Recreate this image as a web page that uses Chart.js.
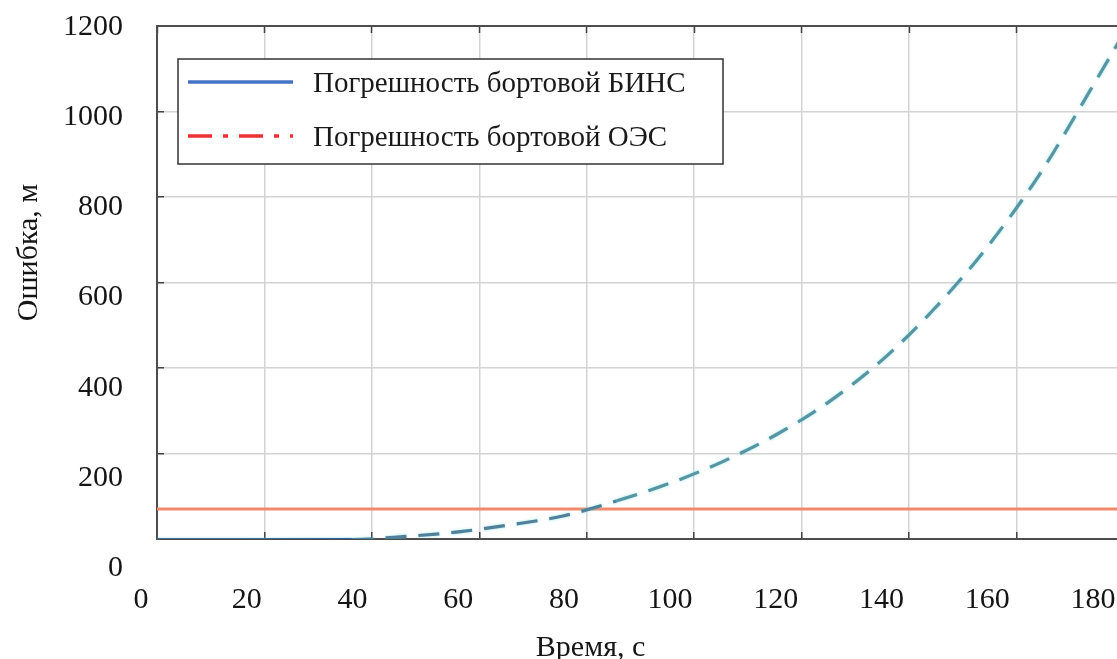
<!DOCTYPE html>
<html>
<head>
<meta charset="utf-8">
<script src="https://cdn.jsdelivr.net/npm/chart.js@4.4.1/dist/chart.umd.min.js"></script>
<style>
  html, body { margin: 0; padding: 0; background: #fff; overflow: hidden; }
  #wrap { width: 1117px; height: 659px; overflow: hidden; }
  canvas { display: block; }
</style>
</head>
<body>
<div id="wrap"><canvas id="chart" width="1130" height="659"></canvas></div>
<script>
// Onboard INS position error over time
const timeSec   = [0, 20, 40, 50, 60, 70, 80, 90, 100, 110, 120, 130, 140, 150, 160, 170, 180, 185];
const binsError = [62, 62, 63, 70, 80, 96, 116, 149, 188, 236, 295, 368, 460, 575, 712, 875, 1070, 1170];

// Onboard optical-electronic system error (constant level)
const oesTime  = [0, 186];
const oesError = [131, 131];

// Axis labels
const xTickValues = [0, 20, 40, 60, 80, 100, 120, 140, 160, 180];
const yTickValues = [0, 200, 400, 600, 800, 1000, 1200];
const seriesNames = ['Погрешность бортовой БИНС', 'Погрешность бортовой ОЭС'];
const xTitle = 'Время, с';
const yTitle = 'Ошибка, м';

// Legend sample styles
const legendColors = ['#4472c4', '#ee3030'];
const legendDashes = [[], [24, 11, 5, 11]];

const SERIF = "'Liberation Serif', 'Times New Roman', serif";
Chart.defaults.font.family = SERIF;
Chart.defaults.font.size = 30;
Chart.defaults.color = '#151515';

const zip = (xs, ys) => xs.map((x, i) => ({ x, y: ys[i] }));

// Axis captions placed along the labelled scales
const captions = {
  id: 'captions',
  afterDraw(chart) {
    const { ctx, scales } = chart;
    ctx.save();
    ctx.font = `30px ${SERIF}`;
    ctx.fillStyle = '#151515';
    ctx.textAlign = 'center';
    ctx.textBaseline = 'alphabetic';
    ctx.fillText(xTitle, scales.xl.getPixelForValue(85), chart.height - 3);
    ctx.translate(37, scales.yl.getPixelForValue(700));
    ctx.rotate(-Math.PI / 2);
    ctx.fillText(yTitle, 0, 0);
    ctx.restore();
  }
};

// Soft cyan halo around the INS error curve
const curveHalo = {
  id: 'curveHalo',
  beforeDatasetDraw(chart, args) {
    if (args.index !== 0) return;
    const ctx = chart.ctx;
    ctx.save();
    ctx.shadowColor = 'rgba(110, 215, 225, 0.7)';
    ctx.shadowBlur = 3;
  },
  afterDatasetDraw(chart, args) {
    if (args.index !== 0) return;
    chart.ctx.restore();
  }
};

// Boxed legend in the upper-left corner of the plot
const legendBox = {
  id: 'legendBox',
  afterDatasetsDraw(chart) {
    const { ctx, chartArea: a } = chart;
    const left = a.left + 21, top = a.top + 33, w = 545, h = 105;
    ctx.save();
    ctx.fillStyle = '#fff';
    ctx.fillRect(left, top, w, h);
    ctx.strokeStyle = '#333';
    ctx.lineWidth = 1.5;
    ctx.strokeRect(left, top, w, h);
    chart.data.datasets.forEach((ds, i) => {
      const y = top + 23 + i * 54;
      ctx.beginPath();
      ctx.setLineDash(legendDashes[i]);
      ctx.strokeStyle = legendColors[i];
      ctx.lineWidth = 3.5;
      ctx.moveTo(left + 10, y);
      ctx.lineTo(left + 115, y);
      ctx.stroke();
      ctx.setLineDash([]);
      ctx.fillStyle = '#1a1a1a';
      ctx.font = `29px ${SERIF}`;
      ctx.textAlign = 'left';
      ctx.textBaseline = 'middle';
      ctx.fillText(ds.label, left + 135, y + 2);
    });
    ctx.restore();
  }
};

const innerTicks = { drawTicks: true, tickLength: -7, tickColor: '#444', tickWidth: 1.5 };
const noPad = s => { s.paddingLeft = 0; s.paddingRight = 0; s.paddingTop = 0; s.paddingBottom = 0; };
const DASH = [21, 12];

new Chart(document.getElementById('chart'), {
  type: 'line',
  data: {
    datasets: [
      {
        label: seriesNames[0],
        data: zip(timeSec, binsError),
        xAxisID: 'xl', yAxisID: 'yl',
        borderColor: '#5695a1',
        borderWidth: 3.2,
        borderDash: DASH,
        pointRadius: 0,
        cubicInterpolationMode: 'monotone',
        segment: {
          borderColor: c => c.p1.parsed.x <= 40 ? '#2f5c9c' : (c.p1.parsed.x <= 90 ? '#51809a' : '#5695a1'),
          borderDash: c => c.p1.parsed.x <= 40 ? [] : DASH
        }
      },
      {
        label: seriesNames[1],
        data: zip(oesTime, oesError),
        xAxisID: 'xl', yAxisID: 'yl',
        borderColor: '#f3896b',
        borderWidth: 3,
        pointRadius: 0
      }
    ]
  },
  options: {
    responsive: false,
    animation: false,
    events: [],
    layout: { padding: { top: 26, right: 6, left: 0, bottom: 0 } },
    plugins: { legend: { display: false }, tooltip: { enabled: false } },
    scales: {
      // grid and frame
      x: {
        type: 'linear', position: 'bottom', weight: 0, min: 0, max: 180,
        ticks: { display: false, stepSize: 20 },
        grid: Object.assign({ color: '#d3d3d3', lineWidth: 1.5 }, innerTicks),
        border: { display: true, color: '#4d4d4d', width: 2 },
        afterFit: s => { s.height = 0; noPad(s); }
      },
      xt: {
        type: 'linear', position: 'top', weight: 0, min: 0, max: 180,
        ticks: { display: false, stepSize: 20 },
        grid: Object.assign({ drawOnChartArea: false }, innerTicks),
        border: { display: true, color: '#4d4d4d', width: 2 },
        afterFit: s => { s.height = 0; noPad(s); }
      },
      y: {
        type: 'linear', position: 'left', weight: 0, min: 0, max: 1200,
        ticks: { display: false, stepSize: 200 },
        grid: Object.assign({ color: '#d3d3d3', lineWidth: 1.5 }, innerTicks),
        border: { display: true, color: '#4d4d4d', width: 2 },
        afterFit: s => { s.width = 0; noPad(s); }
      },
      // labelled scales
      xl: {
        type: 'linear', position: 'bottom', weight: 1, min: 3.03, max: 185.86, bounds: 'data',
        grid: { display: false, drawTicks: false },
        border: { display: false },
        ticks: { autoSkip: false, maxRotation: 0, padding: 43, callback: v => String(v) },
        afterBuildTicks: s => { s.ticks = xTickValues.map(v => ({ value: v })); },
        afterFit: s => { s.height = 120; noPad(s); }
      },
      yl: {
        type: 'linear', position: 'left', weight: 1, min: 64.3, max: 1202.3, bounds: 'data',
        grid: { display: false, drawTicks: false },
        border: { display: false },
        ticks: { autoSkip: false, padding: 34, callback: v => String(v) },
        afterBuildTicks: s => { s.ticks = yTickValues.map(v => ({ value: v })); },
        afterFit: s => { s.width = 157; noPad(s); }
      }
    }
  },
  plugins: [captions, curveHalo, legendBox]
});
</script>
</body>
</html>
